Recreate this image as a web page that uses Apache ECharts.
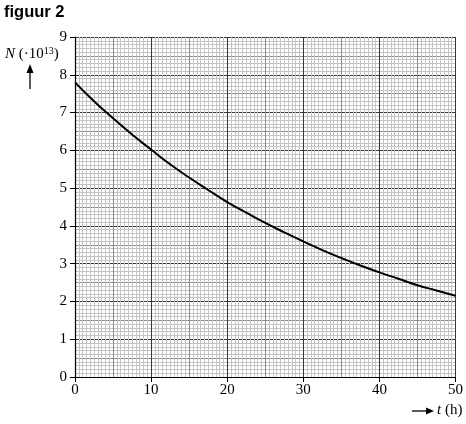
<!DOCTYPE html>
<html>
<head>
<meta charset="utf-8">
<script src="https://cdn.jsdelivr.net/npm/echarts@6/dist/echarts.min.js"></script>
<style>html,body{margin:0;padding:0;background:#fff;}#c{width:466px;height:424px;}</style>
</head>
<body>
<div id="c"></div>
<script>
const tValues = [0, 2.5, 5, 7.5, 10, 12.5, 15, 17.5, 20, 22.5, 25, 27.5, 30, 32.5, 35, 37.5, 40, 42.5, 45, 47.5, 50];
const nValues = [7.80, 7.30, 6.85, 6.42, 6.02, 5.63, 5.28, 4.95, 4.63, 4.35, 4.08, 3.83, 3.59, 3.36, 3.15, 2.95, 2.77, 2.60, 2.43, 2.29, 2.15];
const xTicks = [0, 10, 20, 30, 40, 50];
const yTicks = [0, 1, 2, 3, 4, 5, 6, 7, 8, 9];

const chart = echarts.init(document.getElementById('c'), null, {renderer: 'canvas'});
const serif = '"Liberation Serif", "DejaVu Serif", serif';
const gridAxis = (interval, color, width) => ({
  type: 'value', min: 0, interval: interval,
  axisLine: {show: false}, axisTick: {show: false}, axisLabel: {show: false},
  splitLine: {show: true, lineStyle: {color: color, width: width}}
});
const xMax = xTicks[xTicks.length - 1];
const yMax = yTicks[yTicks.length - 1];
const xa = [gridAxis(0.5, '#c4c4c4', 1), gridAxis(5, '#8c8c8c', 1), {
  type: 'value', min: 0, max: xMax, interval: 10,
  axisLine: {show: true, onZero: false, lineStyle: {color: '#000', width: 1.2}},
  axisTick: {show: true, length: 5, lineStyle: {color: '#000'}},
  axisLabel: {show: true, color: '#000', fontFamily: serif, fontSize: 15, margin: 6},
  splitLine: {show: true, lineStyle: {color: '#383838', width: 1}}
}];
xa[0].max = xMax; xa[1].max = xMax;
const ya = [gridAxis(0.1, '#c4c4c4', 1), gridAxis(0.5, '#8c8c8c', 1), {
  type: 'value', min: 0, max: yMax, interval: 1,
  axisLine: {show: true, onZero: false, lineStyle: {color: '#000', width: 1.2}},
  axisTick: {show: true, length: 5, lineStyle: {color: '#000'}},
  axisLabel: {show: true, color: '#000', fontFamily: serif, fontSize: 15, margin: 8},
  splitLine: {show: true, lineStyle: {color: '#383838', width: 1}}
}];
ya[0].max = yMax; ya[1].max = yMax;
xa.forEach(a => a.position = 'bottom');
ya.forEach(a => a.position = 'left');

chart.setOption({
  animation: false,
  backgroundColor: '#fff',
  grid: {left: 75, right: 10, top: 37, bottom: 47, containLabel: false},
  xAxis: xa,
  yAxis: ya,
  series: [{
    type: 'line', xAxisIndex: 2, yAxisIndex: 2, smooth: true, symbol: 'none',
    lineStyle: {color: '#000', width: 2},
    data: tValues.map((t, i) => [t, nValues[i]])
  }],
  graphic: [
    {type: 'text', left: 4, top: 4, style: {text: 'figuur 2', font: 'bold 16.5px "Liberation Sans", Arial, sans-serif', fill: '#000'}},
    {type: 'text', left: 5, top: 46, style: {
      text: '{i|N}{n| (·10}{s|13}{n|)}',
      rich: {
        i: {fontFamily: serif, fontStyle: 'italic', fontSize: 15, fill: '#000'},
        n: {fontFamily: serif, fontSize: 15, fill: '#000'},
        s: {fontFamily: serif, fontSize: 10, fill: '#000', verticalAlign: 'top', padding: [0,0,7,0]}
      }
    }},
    {type: 'line', shape: {x1: 30, y1: 89, x2: 30, y2: 71}, style: {stroke: '#000', lineWidth: 1.3}},
    {type: 'polygon', shape: {points: [[26.5, 73], [33.5, 73], [30, 64]]}, style: {fill: '#000'}},
    {type: 'line', shape: {x1: 412, y1: 411, x2: 428, y2: 411}, style: {stroke: '#000', lineWidth: 1.3}},
    {type: 'polygon', shape: {points: [[426, 407.5], [426, 414.5], [434, 411]]}, style: {fill: '#000'}},
    {type: 'text', left: 437, top: 403, style: {
      text: '{i|t}{n| (h)}',
      rich: {
        i: {fontFamily: serif, fontStyle: 'italic', fontSize: 15, fill: '#000'},
        n: {fontFamily: serif, fontSize: 15, fill: '#000'}
      }
    }}
  ]
});
</script>
</body>
</html>
